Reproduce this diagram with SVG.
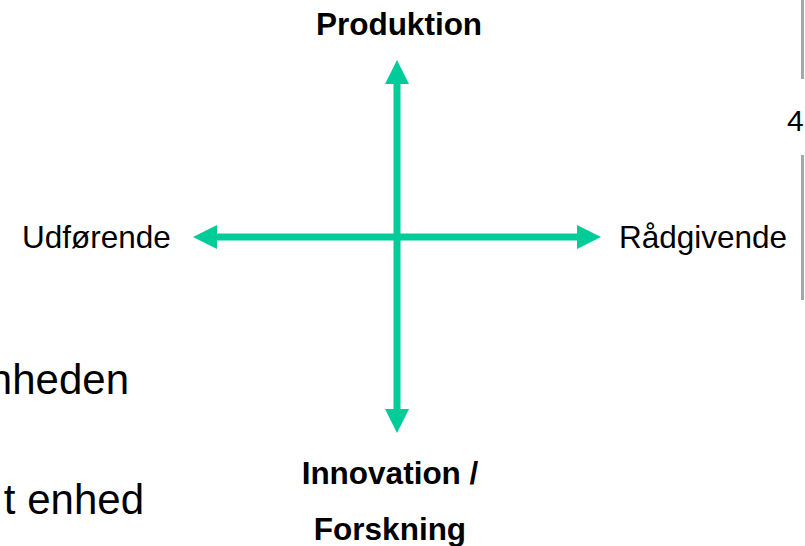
<svg xmlns="http://www.w3.org/2000/svg" width="805" height="546" viewBox="0 0 805 546">
  <style>
    .lbl { font-family: "Liberation Sans", Arial, sans-serif; fill: #000; }
    .bold { font-weight: bold; font-size: 31.5px; }
    .reg { font-size: 31.5px; }
    .big { font-size: 42px; }
    .axis { stroke: #00CC99; stroke-width: 7; fill: none; }
    .frame { stroke: #A4A8AC; stroke-width: 3; }
  </style>
  <defs>
    <marker id="head" viewBox="0 0 24 24" refX="1" refY="12" markerWidth="24" markerHeight="24" markerUnits="userSpaceOnUse" orient="auto-start-reverse">
      <path d="M0,0 L24,12 L0,24 Z" fill="#00CC99"/>
    </marker>
  </defs>
  <rect x="0" y="0" width="805" height="546" fill="#FFFFFF"/>

  <g id="connectors">
    <line class="axis" x1="216" y1="237" x2="578" y2="237" marker-start="url(#head)" marker-end="url(#head)"/>
    <line class="axis" x1="397" y1="83" x2="397" y2="410" marker-start="url(#head)" marker-end="url(#head)"/>
  </g>

  <g id="node-produktion">
    <text class="lbl bold" x="399" y="35" text-anchor="middle">Produktion</text>
  </g>
  <g id="node-udforende">
    <text class="lbl reg" x="22" y="248">Udførende</text>
  </g>
  <g id="node-radgivende">
    <text class="lbl reg" x="619" y="248">Rådgivende</text>
  </g>
  <g id="node-innovation">
    <text class="lbl bold" x="390" y="484" text-anchor="middle">Innovation /</text>
    <text class="lbl bold" x="390" y="540" text-anchor="middle">Forskning</text>
  </g>

  <g id="background-text">
    <text class="lbl big" x="129" y="394" text-anchor="end">nheden</text>
    <text class="lbl big" x="144" y="514" text-anchor="end">t enhed</text>
    <text class="lbl" font-size="30" x="787" y="131">4</text>
    <line class="frame" x1="802.5" y1="0" x2="802.5" y2="79"/>
    <line class="frame" x1="802.5" y1="155" x2="802.5" y2="300"/>
  </g>
</svg>
